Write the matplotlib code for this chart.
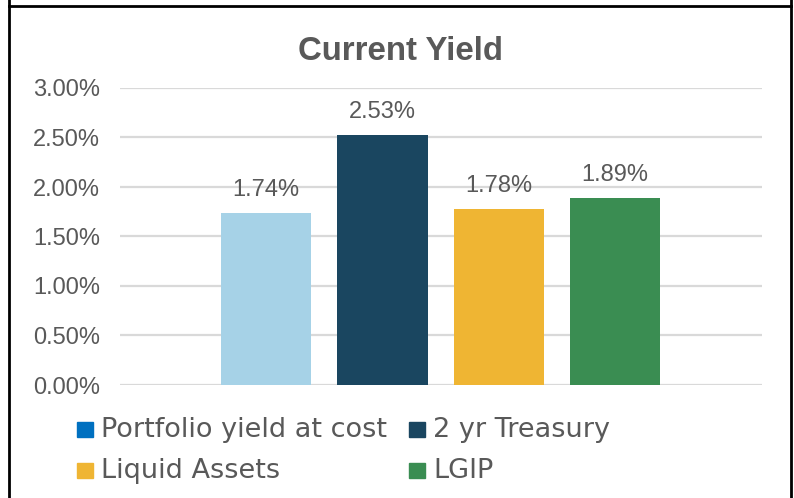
import matplotlib
matplotlib.use("Agg")
import matplotlib.pyplot as plt
from matplotlib.patches import Rectangle
from matplotlib.lines import Line2D
from matplotlib.ticker import FuncFormatter

series = ["Portfolio yield at cost", "2 yr Treasury", "Liquid Assets", "LGIP"]
values = [1.74, 2.53, 1.78, 1.89]
bar_colors = ["#A6D2E7", "#1A4660", "#EFB533", "#3A8D52"]
legend_colors = ["#0070C0", "#1A4660", "#EFB533", "#3A8D52"]
yticks = [0.0, 0.5, 1.0, 1.5, 2.0, 2.5, 3.0]
title = "Current Yield"

W, H = 794, 498
fig = plt.figure(figsize=(W / 100, H / 100), dpi=100)
plt.rcParams['font.family'] = ['Liberation Sans', 'DejaVu Sans']
txt = "#595959"

ax = fig.add_axes([120 / W, 1 - 385 / H, (762 - 120) / W, (385 - 88) / H])
pos = list(range(len(values)))
ax.bar(pos, values, width=0.777, color=bar_colors, zorder=3)
ax.set_xlim(-1.254, 4.261)
ax.set_ylim(0, 3.0)
ax.set_yticks(yticks)
ax.yaxis.set_major_formatter(FuncFormatter(lambda v, p: f"{v:.2f}%"))
ax.set_xticks([])
ax.grid(axis='y', color="#D9D9D9", linewidth=1.6, zorder=0)
for s in ax.spines.values():
    s.set_visible(False)
ax.tick_params(axis='y', length=0, labelsize=17, labelcolor=txt, pad=14.4)

for x, v in zip(pos, values):
    ax.annotate(f"{v:.2f}%", (x, v), xytext=(0, 12), textcoords="offset points",
                ha="center", va="baseline", fontsize=17, color=txt, zorder=4)

fig.text(400 / W, 1 - 60 / H, title, ha="center", va="baseline", fontsize=23.8,
         color=txt, fontweight="bold")

# legend
lx = [77, 409]
ly = [437, 478]
for i, (name, c) in enumerate(zip(series, legend_colors)):
    col, row = i % 2, i // 2
    x0 = lx[col]
    y0 = ly[row]
    fig.patches.append(Rectangle((x0 / W, 1 - y0 / H), 16 / W, 15.5 / H,
                                 transform=fig.transFigure, color=c, zorder=5))
    fig.text((x0 + 24) / W, 1 - y0 / H, name, ha="left", va="baseline",
             fontsize=19.5, color=txt, family="DejaVu Sans")

# border
for line in [([9, 9], [0, H]), ([791, 791], [0, H]), ([9, 791], [6, 6])]:
    fig.add_artist(Line2D([p / W for p in line[0]], [1 - p / H for p in line[1]],
                          color="black", linewidth=2, transform=fig.transFigure))

fig.savefig("out.png", dpi=100)
